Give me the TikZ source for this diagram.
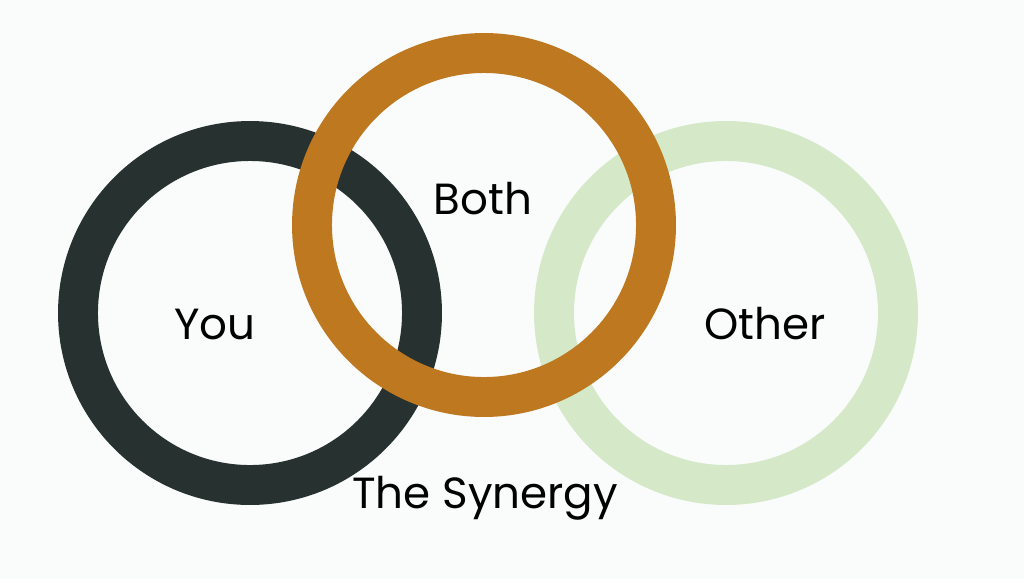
\documentclass[tikz,border=0pt]{standalone}
\usepackage{fontspec}
\setmainfont{Poppins}
\usetikzlibrary{positioning}
\definecolor{bgwhite}{RGB}{250,252,252}
\definecolor{youdark}{RGB}{38,49,48}
\definecolor{bothorange}{RGB}{189,120,32}
\definecolor{othergreen}{RGB}{213,232,200}

\begin{document}
\begin{tikzpicture}[
  x=0.025cm, y=-0.025cm,
  ring/.style={line width=28.4pt},
  label/.style={anchor=base, font=\fontsize{31}{36}\selectfont, text=black}
]

% Background and frame
\fill[bgwhite] (0,0) rectangle (1024,579);
\useasboundingbox (0,0) rectangle (1024,579);

% Ring centres
\coordinate (youc) at (250,313);
\coordinate (bothc) at (484,225);
\coordinate (otherc) at (726,313);

% Rings (orange on top)
\draw[ring, othergreen] (otherc) circle[radius=172];
\draw[ring, youdark] (youc) circle[radius=172];
\draw[ring, bothorange] (bothc) circle[radius=172];

% Labels
\node[label] (you) at (215,339) {You};
\node[label] (both) at (483,214) {Both};
\node[label] (other) at (765,339) {Other};
\node[label] (synergy) at (485,508) {The Synergy};

\end{tikzpicture}
\end{document}
